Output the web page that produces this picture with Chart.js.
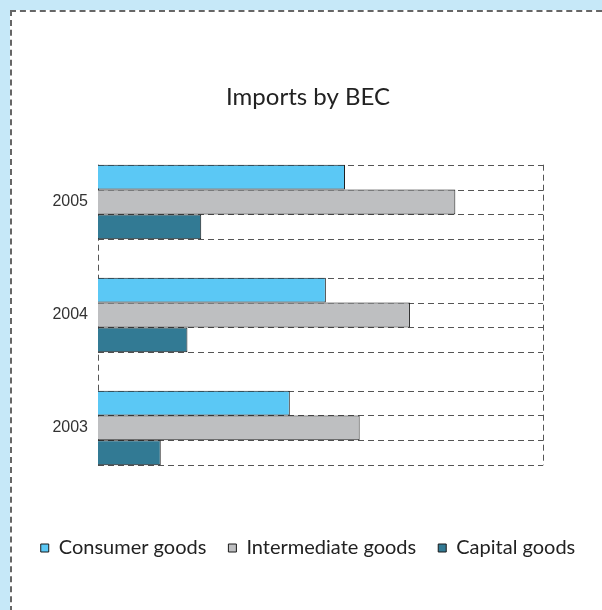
<!DOCTYPE html>
<html>
<head>
<meta charset="utf-8">
<title>Imports by BEC</title>
<script src="https://cdn.jsdelivr.net/npm/chart.js@4"></script>
<style>
  html, body { margin: 0; padding: 0; }
  body { width: 602px; height: 610px; background: #c6e8f8; position: relative; overflow: hidden; }
  .panel {
    position: absolute; left: 10px; top: 10px; width: 600px; height: 610px;
    background: #fff; border-left: 2px dashed #666; border-top: 2px dashed #666;
  }
  #chart { position: absolute; left: 0; top: 0; }
</style>
</head>
<body>
<div class="panel"></div>
<canvas id="chart" width="602" height="610"></canvas>
<script>
// Imports by Broad Economic Categories, share of axis range
const years = ['2005', '2004', '2003'];
const seriesNames = ['Consumer goods', 'Intermediate goods', 'Capital goods'];
const consumerGoods = [55.5, 51.2, 43.1];
const intermediateGoods = [80.3, 70.1, 58.8];
const capitalGoods = [23.2, 20.1, 14.1];
const axisMax = 100;

const colors = ['#5bc8f5', '#bebfc1', '#327a94'];

// dashed frame along the bar edges of every year group
const barFrame = {
  id: 'barFrame',
  beforeDatasetsDraw(chart) {
    const ctx = chart.ctx;
    const x = chart.scales.x;
    const left = x.getPixelForValue(0);
    const right = x.getPixelForValue(axisMax);
    const metas = chart.data.datasets.map((d, i) => chart.getDatasetMeta(i));
    let first = Infinity, last = -Infinity;
    ctx.save();
    ctx.strokeStyle = '#555';
    ctx.lineWidth = 1;
    ctx.setLineDash([6, 4]);
    years.forEach((y, i) => {
      const edges = [];
      metas.forEach(m => {
        const bar = m.data[i];
        edges.push(bar.y - bar.height / 2, bar.y + bar.height / 2);
      });
      edges.forEach(e => {
        first = Math.min(first, e);
        last = Math.max(last, e);
        ctx.beginPath();
        ctx.moveTo(left, Math.round(e) + 0.5);
        ctx.lineTo(right, Math.round(e) + 0.5);
        ctx.stroke();
      });
    });
    [left, right].forEach(px => {
      ctx.beginPath();
      ctx.moveTo(Math.round(px) + 0.5, first);
      ctx.lineTo(Math.round(px) + 0.5, last);
      ctx.stroke();
    });
    ctx.restore();
  }
};

new Chart(document.getElementById('chart'), {
  type: 'bar',
  data: {
    labels: years,
    datasets: [consumerGoods, intermediateGoods, capitalGoods].map((values, i) => ({
      label: seriesNames[i],
      data: values,
      backgroundColor: colors[i],
      borderColor: '#1a1a1a',
      borderWidth: 1,
      barPercentage: 1,
      categoryPercentage: 0.66
    }))
  },
  options: {
    indexAxis: 'y',
    responsive: false,
    animation: false,
    layout: { padding: { top: 80, left: 14, right: 0, bottom: 42 } },
    plugins: {
      title: {
        display: true,
        text: 'Imports by BEC',
        color: '#222',
        font: { family: 'Lato', size: 24, weight: 'normal' },
        padding: { top: 3, bottom: 33.7 }
      },
      legend: {
        position: 'bottom',
        labels: {
          boxWidth: 8,
          boxHeight: 8,
          padding: 22,
          color: '#222',
          font: { family: 'Lato', size: 20 }
        }
      },
      tooltip: { enabled: false }
    },
    scales: {
      x: {
        min: 0,
        max: axisMax,
        grid: { display: false },
        border: { display: false },
        ticks: { display: false },
        afterFit(s) { s.height = 31.6; }
      },
      y: {
        grid: { display: false },
        border: { display: false },
        ticks: {
          color: '#333',
          padding: 2,
          font: { family: '"Liberation Sans", Arial, sans-serif', size: 16 }
        },
        afterFit(s) { s.width = 84; }
      },
      yRight: {
        type: 'category',
        position: 'right',
        grid: { display: false },
        border: { display: false },
        ticks: { display: false },
        afterFit(s) { s.width = 59; }
      }
    }
  },
  plugins: [barFrame]
});
</script>
</body>
</html>
